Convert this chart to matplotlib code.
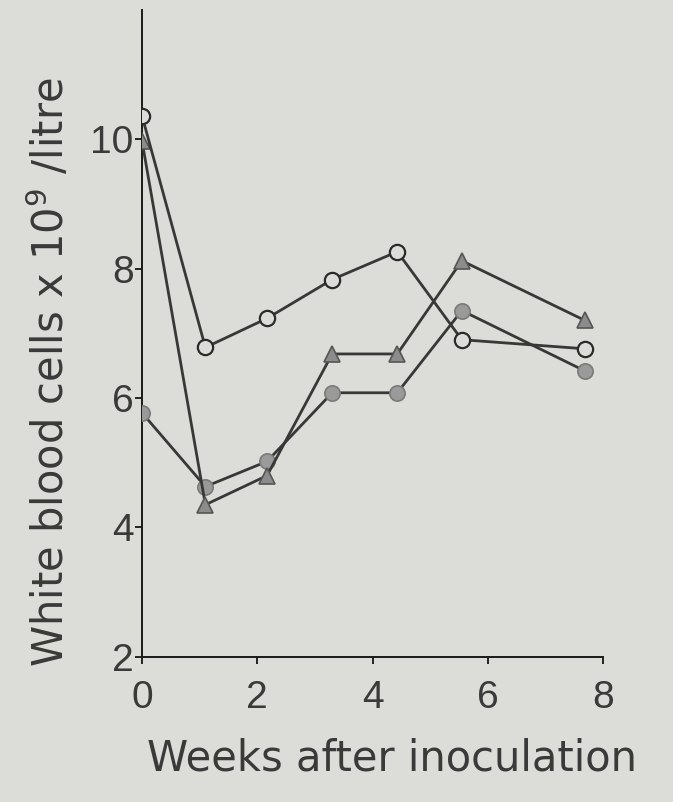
import matplotlib.pyplot as plt

# weeks (points sit slightly right of the integer ticks)
weeks = [0, 1.1, 2.17, 3.3, 4.43, 5.55, 7.68]

open_circles = [10.36, 6.78, 7.23, 7.83, 8.26, 6.9, 6.76]
triangles = [9.97, 4.35, 4.8, 6.68, 6.68, 8.12, 7.2]
filled_circles = [5.77, 4.63, 5.02, 6.08, 6.08, 7.35, 6.42]

x_ticks = [0, 2, 4, 6, 8]
y_ticks = [2, 4, 6, 8, 10]

bg = "#dcdcd8"
line_col = "#383838"
text_col = "#3a3a3a"

fig = plt.figure(figsize=(6.73, 8.02), dpi=100, facecolor=bg)
ax = fig.add_axes([0.211, 0.181, 0.685, 0.807], facecolor=bg)

ax.plot(weeks, filled_circles, color=line_col, lw=2, marker="o", markersize=11,
        markerfacecolor="#9a9a9a", markeredgecolor="#7a7a7a", markeredgewidth=1.2, zorder=3)
ax.plot(weeks, triangles, color=line_col, lw=2, marker="^", markersize=12,
        markerfacecolor="#8c8c8c", markeredgecolor="#555555", markeredgewidth=1.2, zorder=4)
ax.plot(weeks, open_circles, color=line_col, lw=2, marker="o", markersize=11,
        markerfacecolor=bg, markeredgecolor="#2a2a2a", markeredgewidth=1.6, zorder=5)

ax.set_xlim(0, 8)
ax.set_ylim(2, 12)
ax.set_xticks(x_ticks)
ax.set_yticks(y_ticks)
ax.set_xticklabels([str(t) for t in x_ticks], family="Liberation Sans", fontsize=28, color=text_col)
ax.set_yticklabels([str(t) for t in y_ticks], family="Liberation Sans", fontsize=28, color=text_col)
ax.tick_params(axis="y", direction="out", length=5, width=1.4, pad=1, color="#222222")
ax.tick_params(axis="x", direction="out", length=5, width=1.4, pad=12, color="#222222")

for side in ["top", "right"]:
    ax.spines[side].set_visible(False)
for side in ["left", "bottom"]:
    ax.spines[side].set_linewidth(1.4)
    ax.spines[side].set_color("#1a1a1a")

ax.set_xlabel("Weeks after inoculation", fontsize=30, color=text_col)
ax.xaxis.set_label_coords(0.542, -0.125)
ax.set_ylabel("White blood cells x 10$^9$ /litre", fontsize=30, color=text_col)
ax.yaxis.set_label_coords(-0.15, 0.44)

fig.savefig("out.png", dpi=100, facecolor=bg)
